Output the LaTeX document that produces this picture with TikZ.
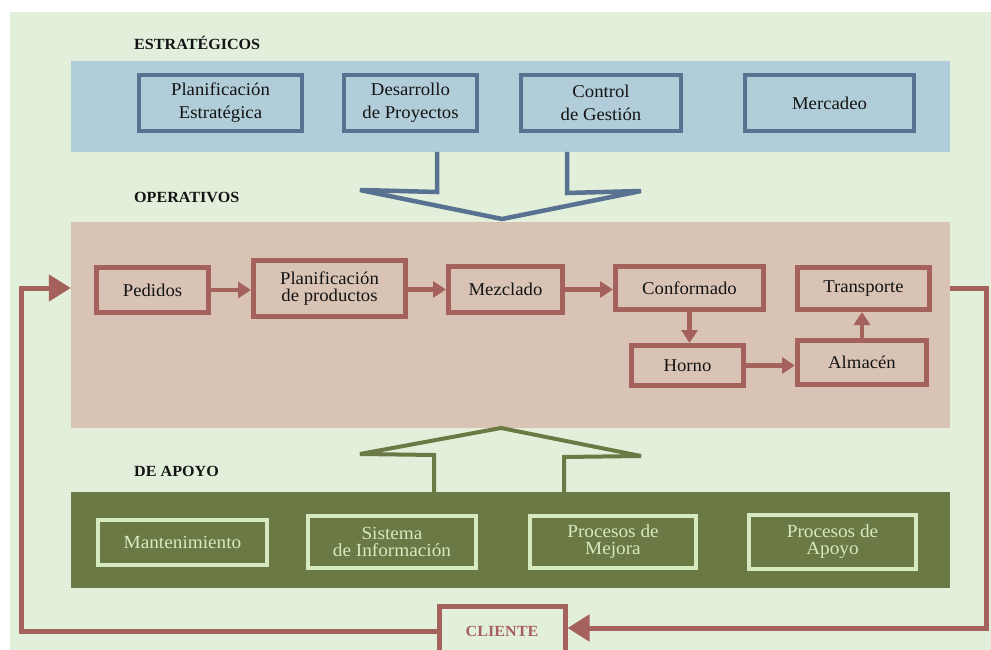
\documentclass[tikz,border=0pt]{standalone}
\usepackage{fontspec}
\setmainfont{Liberation Serif}[FakeStretch=1.04]
\usetikzlibrary{arrows.meta}

\definecolor{bgGreen}{HTML}{E2EFDA}
\definecolor{bandBlue}{HTML}{B0CDD9}
\definecolor{lineBlue}{HTML}{597291}
\definecolor{bandTan}{HTML}{D8C3B5}
\definecolor{lineRed}{HTML}{A5615C}
\definecolor{bandOlive}{HTML}{6B7A45}
\definecolor{paleGreen}{HTML}{D6EAC0}
\definecolor{inkDark}{HTML}{141414}

\tikzset{
  band/.style={draw=none},
  grouplabel/.style={anchor=west, inner sep=0pt, font=\fontsize{15.5}{18}\selectfont\bfseries, text=inkDark},
  bluebox/.style={draw=lineBlue, line width=4.5pt, fill=bandBlue, inner sep=0pt, align=center,
    text=inkDark, font=\fontsize{18}{23}\selectfont},
  redbox/.style={draw=lineRed, line width=5pt, fill=bandTan, inner sep=0pt, align=center,
    text=inkDark, font=\fontsize{18}{16.5}\selectfont},
  olivebox/.style={draw=paleGreen, line width=4.5pt, fill=bandOlive, inner sep=0pt, align=center,
    text=paleGreen, font=\fontsize{18.5}{17}\selectfont},
  flow/.style={draw=lineRed, line width=4.5pt, -{Triangle[length=13pt,width=16pt]}},
  feedback/.style={draw=lineRed, line width=5pt, line join=miter},
  bigtip/.style={-{Triangle[length=22pt,width=26pt]}},
  hollowdown/.style={draw=lineBlue, line width=4.5pt, line join=miter, miter limit=3},
  hollowup/.style={draw=bandOlive, line width=4pt, line join=miter, miter limit=3},
}

\begin{document}
\begin{tikzpicture}[x=1pt, y=-1pt]
  \useasboundingbox (0,0) rectangle (991,650);
  % page background
  \fill[bgGreen] (10,12) rectangle (991,650);

  % three process bands
  \fill[bandBlue]  (71,61)  rectangle (950,152);
  \fill[bandTan]   (71,222) rectangle (950,428);
  \fill[bandOlive] (71,492) rectangle (950,588);
  \node[band, inner sep=0pt, minimum width=879pt, minimum height=206pt] (opband) at (510.5,325) {};

  % group titles
  \node[grouplabel] (tStr) at (134,43)  {ESTRATÉGICOS};
  \node[grouplabel] (tOpe) at (134,197) {OPERATIVOS};
  \node[grouplabel] (tApo) at (134,471) {DE APOYO};

  % strategic processes
  \node[bluebox, minimum width=163pt, minimum height=56pt] (pe) at (220.5,103) {Planificación\\Estratégica};
  \node[bluebox, minimum width=133pt, minimum height=56pt] (dp) at (410.5,103) {Desarrollo\\de Proyectos};
  \node[bluebox, minimum width=160pt, minimum height=56pt] (cg) at (601,103)   {Control\\de Gestión};
  \node[bluebox, minimum width=169pt, minimum height=56pt] (me) at (829.5,103) {Mercadeo};

  % hollow arrow from strategic to operative band
  \draw[hollowdown] (437,152) -- (437,192) -- (360,190) -- (502,219) -- (641,191) -- (567,193) -- (567,152);

  % operative processes
  \node[redbox, minimum width=112pt, minimum height=45pt] (ped) at (152.5,290)  {Pedidos};
  \node[redbox, minimum width=152pt, minimum height=56pt] (plp) at (329.5,288.5){Planificación\\de productos};
  \node[redbox, minimum width=114pt, minimum height=46pt] (mez) at (505.5,289.5){Mezclado};
  \node[redbox, minimum width=148pt, minimum height=43pt] (con) at (689.5,288)  {Conformado};
  \node[redbox, minimum width=112pt, minimum height=40pt] (hor) at (687.5,365.5){Horno};
  \node[redbox, minimum width=132pt, minimum height=42pt] (tra) at (863.5,288.5){Transporte};
  \node[redbox, minimum width=129pt, minimum height=44pt] (alm) at (862,362.5)  {Almacén};

  \draw[flow] (ped.east) -- (ped.east -| plp.west);
  \draw[flow] (plp.east |- mez.west) -- (mez.west);
  \draw[flow] (mez.east) -- (mez.east -| con.west);
  \draw[flow] (con.south) -- (con.south |- hor.north);
  \draw[flow] (hor.east) -- (hor.east -| alm.west);
  \draw[flow] (alm.north) -- (alm.north |- tra.south);

  % hollow arrow from support to operative band
  \draw[hollowup] (434,492) -- (434,455) -- (360,454) -- (501,428) -- (641,456) -- (564,457) -- (564,492);

  % support processes
  \node[olivebox, minimum width=169pt, minimum height=45pt] (man) at (182.5,542.5) {Mantenimiento};
  \node[olivebox, minimum width=168pt, minimum height=52pt] (sis) at (392,542)     {Sistema\\de Información};
  \node[olivebox, minimum width=166pt, minimum height=52pt] (pme) at (613,542)     {Procesos de\\Mejora};
  \node[olivebox, minimum width=167pt, minimum height=54pt] (pap) at (832.5,542)   {Procesos de\\Apoyo};

  % customer and feedback loop
  \node[draw=lineRed, line width=5pt, fill=bgGreen, minimum width=126pt, minimum height=50pt,
        inner sep=0pt, text=lineRed, font=\fontsize{15.5}{18}\selectfont\bfseries] (cli) at (502,631) {CLIENTE};

  \coordinate (lb) at (21,631);
  \coordinate (lt) at (21,288);
  \coordinate (rt) at (986,288);
  \coordinate (rb) at (986,628);
  \draw[feedback, bigtip] (cli.west) -- (lb) -- (lt) -- (lt -| opband.west);
  \draw[feedback, bigtip] (opband.east |- rt) -- (rt) -- (rb) -- (rb -| cli.east);
\end{tikzpicture}
\end{document}
